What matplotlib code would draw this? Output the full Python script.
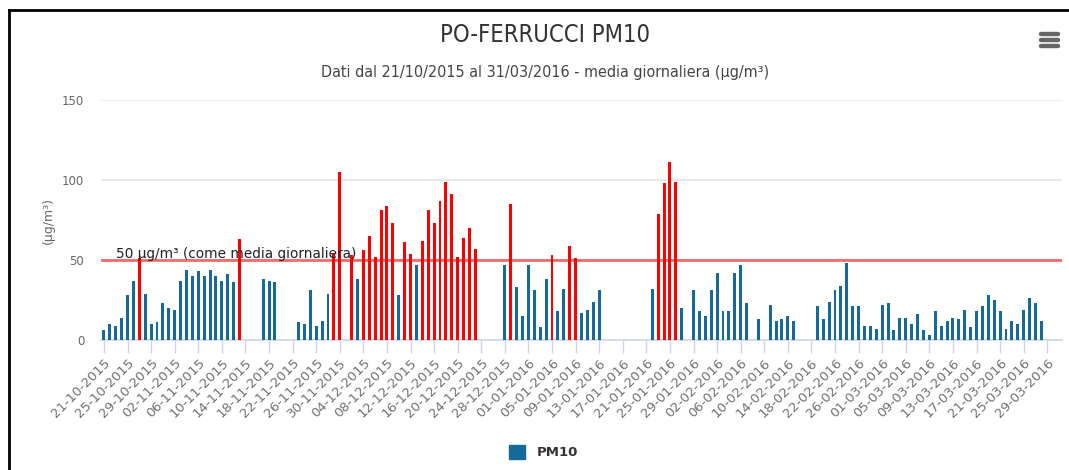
import numpy as np
import pandas as pd
import matplotlib
matplotlib.use("Agg")
from matplotlib import pyplot as plt
from matplotlib.lines import Line2D
from matplotlib.patches import Rectangle


# daily PM10 means, 21/10/2015 .. 31/03/2016 (None = no data)
start_date = "2015-10-21"
end_date = "2016-03-31"
pm10 = [
    6, 10, 9, 14, 28, 37, 51, 29, 10, 11, 23, 20, 19, 37, 44, 40, 43, 40, 44, 40,
    37, 41, 36, 63, None, None, None, 38, 37, 36, None, None, None, 11, 10, 31, 9, 12, 29, 54,
    105, None, 53, 38, 56, 65, 52, 81, 84, 73, 28, 61, 54, 47, 62, 81, 73, 87, 99, 91,
    52, 64, 70, 57, None, None, None, None, 47, 85, 33, 15, 47, 31, 8, 38, 53, 18, 32, 59,
    51, 17, 19, 24, 31, None, None, None, None, None, None, None, None, 32, 79, 98, 111, 99, 20,
    None, 31, 18, 15, 31, 42, 18, 18, 42, 47, 23, None, 13, None, 22, 12, 13, 15, 12, None,
    None, None, 21, 13, 24, 31, 34, 48, 21, 21, 9, 9, 7, 22, 23, 6, 14, 14, 10, 16,
    6, 3, 18, 9, 12, 14, 13, 19, 8, 18, 21, 28, 25, 18, 7, 12, 10, 19, 26, 23,
    12, None, None, None,
]
limit = 50
limit_label = "50 µg/m³ (come media giornaliera)"
title = "PO-FERRUCCI PM10"
subtitle = "Dati dal 21/10/2015 al 31/03/2016 - media giornaliera (µg/m³)"
y_ticks = [0, 50, 100, 150]
tick_step = 4

dates = pd.date_range(start_date, end_date, freq="D")
s = pd.Series(pm10, index=np.arange(len(dates)), dtype=float).dropna()

blue = "#15699b"
red = "#ff0000"
W, H = 1069, 470

fig = plt.figure(figsize=(W / 100, H / 100), dpi=100)
ax = fig.add_axes([101 / W, (H - 340) / H, (1062 - 101) / W, 240 / H])

colors = [red if v > limit else blue for v in s.values]
ax.bar(s.index, s.values, width=0.5, color=colors, zorder=3)

ax.set_xlim(-0.5, len(dates) - 0.5)
ax.set_ylim(0, 150)

# grid + limit line
ax.set_yticks(y_ticks)
ax.yaxis.grid(True, color="#e6e6e6", linewidth=1.2, zorder=0)
ax.axhline(limit, color="#f26b6b", linewidth=2, zorder=2)
ax.text(2, limit + 1.5, limit_label, fontsize=9.8, color="#222222", zorder=4)

for side in ["top", "right", "left"]:
    ax.spines[side].set_visible(False)
ax.spines["bottom"].set_color("#ccd6eb")
ax.spines["bottom"].set_linewidth(1.2)

ticks = np.arange(0, len(dates), tick_step)
ax.set_xticks(ticks)
ax.set_xticklabels([dates[i].strftime("%d-%m-%Y") for i in ticks],
                   rotation=45, ha="right", va="top", rotation_mode="anchor")
ax.tick_params(axis="x", colors="#ccd6eb", length=9, width=1, labelcolor="#707070",
               labelsize=9.5, pad=3)
ax.tick_params(axis="y", length=0, labelcolor="#666666", labelsize=8.5, pad=12)
ax.set_ylabel("(µg/m³)", color="#666666", fontsize=9, labelpad=5)

# titles
fig.text(545 / W, 1 - 35 / H, title, ha="center", va="center", fontsize=17,
         fontstretch="condensed", color="#333333")
fig.text(545 / W, 1 - 73 / H, subtitle, ha="center", va="center", fontsize=11.5,
         fontstretch="condensed", color="#444444")

# legend
fig.patches.append(Rectangle((509 / W, 1 - 459 / H), 16 / W, 14 / H,
                             transform=fig.transFigure, color=blue))
fig.text(537 / W, 1 - 452 / H, "PM10", ha="left", va="center", fontsize=9.5,
         fontweight="bold", color="#333333")

# menu icon
for yy in [34, 40, 46]:
    fig.lines.append(Line2D([1041 / W, 1058 / W], [1 - yy / H, 1 - yy / H],
                            transform=fig.transFigure, color="#666666", linewidth=3.2,
                            solid_capstyle="round"))

# frame of the screenshot
fig.lines.append(Line2D([9 / W, 9 / W], [0, 1 - 10 / H], transform=fig.transFigure,
                        color="black", linewidth=2))
fig.lines.append(Line2D([9 / W, 1], [1 - 10 / H, 1 - 10 / H], transform=fig.transFigure,
                        color="black", linewidth=2))

fig.savefig("out.png", dpi=100)
